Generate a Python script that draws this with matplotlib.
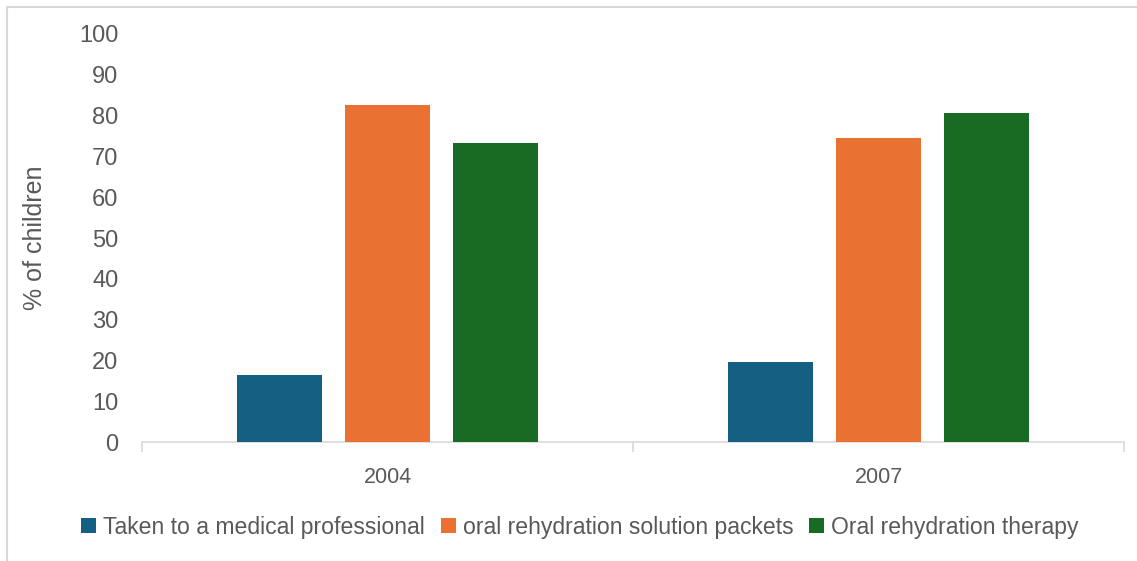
import numpy as np
import matplotlib.pyplot as plt
from matplotlib.patches import Rectangle

plt.rcParams['font.family'] = ['Liberation Sans', 'DejaVu Sans']

years = ['2004', '2007']
series = ['Taken to a medical professional',
          'oral rehydration solution packets',
          'Oral rehydration therapy']
medical = [16.5, 19.7]
ors_packets = [82.7, 74.5]
ort = [73.3, 80.6]
colors = ['#156082', '#E97132', '#196B24']

text_color = '#595959'

fig = plt.figure(figsize=(11.37, 5.61), dpi=100)
ax = fig.add_axes([0.1249, 0.2121, 0.9886 - 0.1249, 0.9394 - 0.2121])

# marco exterior (solo se ven los bordes izquierdo y superior)
fig.patches.append(Rectangle((0.0062, -0.1), 1.2, 0.1 + 0.9884, transform=fig.transFigure,
                             fill=False, edgecolor='#d9d9d9', linewidth=1.5))

x = np.arange(len(years))
width = 0.173
step = 0.22
for i, (vals, name) in enumerate(zip([medical, ors_packets, ort], series)):
    ax.bar(x + (i - 1) * step, vals, width, color=colors[i], label=name, zorder=3)

ax.set_xlim(-0.5, 1.5)
ax.set_ylim(0, 100)
ax.set_yticks(range(0, 101, 10))
ax.tick_params(axis='y', length=0, labelsize=17, colors=text_color, pad=17)

# eje x con separadores de categoría
ax.set_xticks(x)
ax.set_xticklabels(years)
ax.tick_params(axis='x', length=0, labelsize=15.5, colors=text_color, pad=18)
ax.set_xticks([-0.5, 0.5, 1.5], minor=True)
ax.tick_params(axis='x', which='minor', length=7, color='#d9d9d9', width=1.2)

for s in ['top', 'right', 'left']:
    ax.spines[s].set_visible(False)
ax.spines['bottom'].set_color('#d9d9d9')
ax.spines['bottom'].set_linewidth(1.2)

ax.set_ylabel('% of children', fontsize=18, color=text_color)
ax.yaxis.set_label_coords(-0.097, 0.5)

fig.legend(loc='center', bbox_to_anchor=(0.51, 0.06), ncol=3, frameon=False,
           fontsize=16.6, handlelength=0.65, handleheight=0.65, handletextpad=0.3,
           columnspacing=0.7, labelcolor=text_color)

fig.savefig('out.png', dpi=100)
